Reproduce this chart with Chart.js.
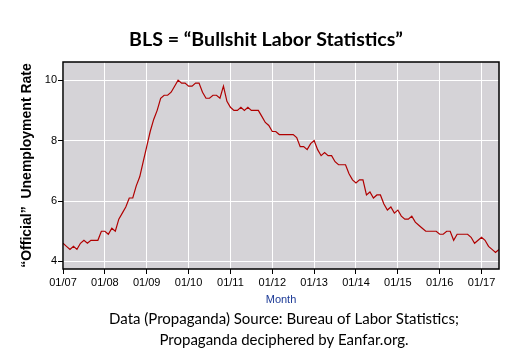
<!DOCTYPE html>
<html>
<head>
<meta charset="utf-8">
<script src="https://cdn.jsdelivr.net/npm/chart.js@4/dist/chart.umd.min.js"></script>
<style>
  html, body { margin: 0; padding: 0; background: #ffffff; }
  #wrap { width: 522px; height: 358px; position: relative; }
</style>
</head>
<body>
<div id="wrap"><canvas id="c" width="522" height="358"></canvas></div>
<script>
// ---- Data (monthly "official" unemployment rate, Jan 2007 - Jun 2017) ----
const rate2007 = [4.6, 4.5, 4.4, 4.5, 4.4, 4.6, 4.7, 4.6, 4.7, 4.7, 4.7, 5.0];
const rate2008 = [5.0, 4.9, 5.1, 5.0, 5.4, 5.6, 5.8, 6.1, 6.1, 6.5, 6.8, 7.3];
const rate2009 = [7.8, 8.3, 8.7, 9.0, 9.4, 9.5, 9.5, 9.6, 9.8, 10.0, 9.9, 9.9];
const rate2010 = [9.8, 9.8, 9.9, 9.9, 9.6, 9.4, 9.4, 9.5, 9.5, 9.4, 9.8, 9.3];
const rate2011 = [9.1, 9.0, 9.0, 9.1, 9.0, 9.1, 9.0, 9.0, 9.0, 8.8, 8.6, 8.5];
const rate2012 = [8.3, 8.3, 8.2, 8.2, 8.2, 8.2, 8.2, 8.1, 7.8, 7.8, 7.7, 7.9];
const rate2013 = [8.0, 7.7, 7.5, 7.6, 7.5, 7.5, 7.3, 7.2, 7.2, 7.2, 6.9, 6.7];
const rate2014 = [6.6, 6.7, 6.7, 6.2, 6.3, 6.1, 6.2, 6.2, 5.9, 5.7, 5.8, 5.6];
const rate2015 = [5.7, 5.5, 5.4, 5.4, 5.5, 5.3, 5.2, 5.1, 5.0, 5.0, 5.0, 5.0];
const rate2016 = [4.9, 4.9, 5.0, 5.0, 4.7, 4.9, 4.9, 4.9, 4.9, 4.8, 4.6, 4.7];
const rate2017 = [4.8, 4.7, 4.5, 4.4, 4.3, 4.4];

const tickLabels = ['01/07', '01/08', '01/09', '01/10', '01/11', '01/12',
                    '01/13', '01/14', '01/15', '01/16', '01/17'];

const titleText = 'BLS = \u201cBullshit Labor Statistics\u201d';
const yAxisTitle = '\u201cOfficial\u201d  Unemployment Rate';
const xAxisTitle = 'Month';
const footerLines = ['Data (Propaganda) Source: Bureau of Labor Statistics;',
                     'Propaganda deciphered by Eanfar.org.'];

// ---- Build series (x = month index from Jan 2007) ----
const allRates = [].concat(rate2007, rate2008, rate2009, rate2010, rate2011,
  rate2012, rate2013, rate2014, rate2015, rate2016, rate2017);
const points = allRates.map((v, i) => ({ x: i, y: v }));

const PLOT_BG = 'rgb(213,211,215)';

const decorPlugin = {
  id: 'decor',
  beforeDraw(chart) {
    const { ctx, chartArea: a } = chart;
    ctx.save();
    ctx.fillStyle = PLOT_BG;
    ctx.fillRect(a.left, a.top, a.right - a.left, a.bottom - a.top);
    ctx.restore();
  },
  afterDraw(chart) {
    const { ctx, chartArea: a } = chart;
    ctx.save();
    ctx.strokeStyle = '#000000';
    ctx.lineWidth = 1.5;
    ctx.strokeRect(a.left, a.top, a.right - a.left, a.bottom - a.top);

    // main title
    ctx.fillStyle = '#000000';
    ctx.textAlign = 'center';
    ctx.textBaseline = 'alphabetic';
    ctx.font = 'bold 19.6px Lato, "Open Sans", sans-serif';
    ctx.fillText(titleText, 266, 46);

    // footer
    const cx = (a.left + a.right) / 2 + 3;
    ctx.font = '15px Lato, "Open Sans", sans-serif';
    ctx.fillText(footerLines[0], cx, 324);
    ctx.fillText(footerLines[1], cx, 345);
    ctx.restore();
  }
};

new Chart(document.getElementById('c'), {
  type: 'line',
  data: {
    datasets: [{
      data: points,
      borderColor: '#b00000',
      borderWidth: 1.2,
      pointRadius: 0,
      tension: 0,
      fill: false
    }]
  },
  options: {
    responsive: false,
    animation: false,
    layout: { padding: { left: 0, right: 23, top: 62, bottom: 49 } },
    plugins: {
      legend: { display: false },
      tooltip: { enabled: false },
      title: { display: false }
    },
    scales: {
      x: {
        type: 'linear',
        min: 0,
        max: 125,
        afterFit(scale) { scale.height = 40; },
        border: { display: false },
        grid: { color: '#ffffff', lineWidth: 1, tickColor: '#000000', tickLength: 5, drawTicks: true },
        ticks: {
          stepSize: 12,
          includeBounds: false,
          autoSkip: false,
          maxRotation: 0,
          padding: 2,
          color: '#000000',
          font: { family: '"Liberation Sans", Arial, sans-serif', size: 11 },
          callback: (v) => (v % 12 === 0 ? tickLabels[v / 12] : '')
        },
        title: {
          display: true,
          text: xAxisTitle,
          color: '#1c3a96',
          font: { family: '"Liberation Sans", Arial, sans-serif', size: 11 },
          padding: { top: 0, bottom: 2 }
        }
      },
      y: {
        type: 'linear',
        min: 3.75,
        max: 10.6,
        afterFit(scale) { scale.width = 63; },
        border: { display: false },
        grid: { color: '#ffffff', lineWidth: 1, tickColor: '#000000', tickLength: 5, drawTicks: true },
        ticks: {
          stepSize: 2,
          includeBounds: false,
          padding: 1,
          color: '#000000',
          font: { family: '"Liberation Sans", Arial, sans-serif', size: 11 }
        },
        title: {
          display: true,
          text: yAxisTitle,
          color: '#000000',
          font: { family: '"Liberation Sans", Arial, sans-serif', size: 14, weight: 'bold' },
          padding: { top: 19, bottom: 0 }
        }
      }
    }
  },
  plugins: [decorPlugin]
});
</script>
</body>
</html>
